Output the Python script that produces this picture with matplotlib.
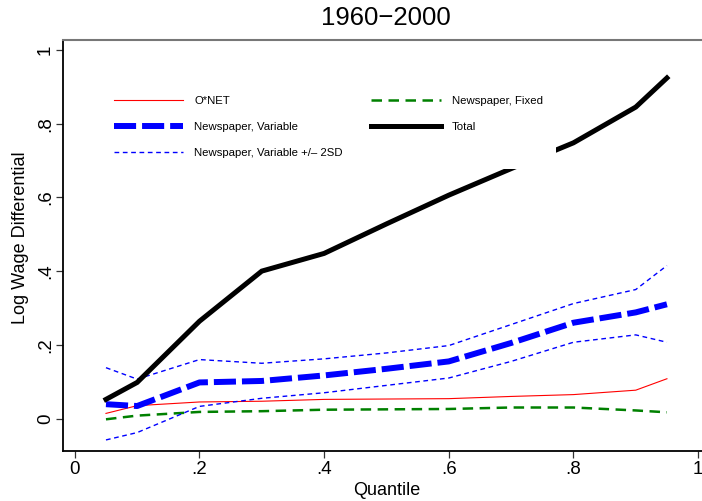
import numpy as np
import matplotlib
matplotlib.use("Agg")
import matplotlib.pyplot as pl
from matplotlib.patches import Rectangle

pl.rc('font', family=['Liberation Sans', 'DejaVu Sans'])

# quantiles and log wage differentials
quantile = [0.05, 0.1, 0.2, 0.3, 0.4, 0.5, 0.6, 0.7, 0.8, 0.9, 0.95]
onet = [0.014, 0.035, 0.045, 0.047, 0.052, 0.053, 0.054, 0.060, 0.065, 0.077, 0.108]
news_fixed = [-0.002, 0.008, 0.018, 0.020, 0.024, 0.025, 0.026, 0.030, 0.030, 0.022, 0.017]
news_var = [0.039, 0.034, 0.098, 0.102, 0.117, 0.135, 0.155, 0.205, 0.260, 0.288, 0.310]
news_var_hi = [0.138, 0.107, 0.160, 0.150, 0.162, 0.178, 0.198, 0.255, 0.312, 0.350, 0.415]
news_var_lo = [-0.058, -0.038, 0.033, 0.055, 0.070, 0.090, 0.110, 0.155, 0.207, 0.227, 0.207]
total = [0.052, 0.098, 0.264, 0.400, 0.448, 0.528, 0.606, 0.678, 0.748, 0.845, 0.924]

xticks = [0, 0.2, 0.4, 0.6, 0.8, 1]
xticklabels = ["0", ".2", ".4", ".6", ".8", "1"]
yticks = [0, 0.2, 0.4, 0.6, 0.8, 1]
yticklabels = ["0", ".2", ".4", ".6", ".8", "1"]

fig = pl.figure(figsize=(7.02, 5.01), dpi=100)
ax = fig.add_axes([0.0897, 0.0998, 0.9216, 0.8204])

l_onet, = ax.plot(quantile, onet, color='#ff0000', lw=0.8, zorder=2)
l_fix, = ax.plot(quantile, news_fixed, color='#008000', lw=1.8, dashes=(4.2, 2.6), zorder=2)
l_var, = ax.plot(quantile, news_var, color='#0000ff', lw=4.3, dashes=(3.7, 1.0), zorder=2)
l_sd, = ax.plot(quantile, news_var_hi, color='#0000ff', lw=1.0, dashes=(3.4, 2.6), zorder=2)
ax.plot(quantile, news_var_lo, color='#0000ff', lw=1.0, dashes=(3.4, 2.6), zorder=2)
l_tot, = ax.plot(quantile, total, color='black', lw=3.6, zorder=2,
                 solid_joinstyle='miter')

# white legend area hides the lines behind it (as in the Stata graph)
ax.add_patch(Rectangle((0.057, 0.686), 0.705, 0.22, transform=ax.transAxes,
                       facecolor='white', edgecolor='none', zorder=3))

leg = ax.legend([l_onet, l_var, l_sd, l_fix, l_tot],
                ["O*NET", "Newspaper, Variable", "Newspaper, Variable +/\u2013 2SD",
                 "Newspaper, Fixed", "Total"],
                ncol=2, loc='upper left', bbox_to_anchor=(0.0788, 0.864),
                frameon=False, fontsize=8.2, handlelength=6.1, handletextpad=0.95,
                labelspacing=1.42, columnspacing=2.5, borderpad=0, borderaxespad=0)
leg.set_zorder(4)

ax.set_xlim(-0.019, 1.019)
ax.set_ylim(-0.088, 1.027)

ax.set_xticks(xticks, xticklabels)
ax.set_yticks(yticks, yticklabels)
ax.tick_params(axis='both', labelsize=13.5, length=5, width=0.9, color='#333333')
ax.tick_params(axis='x', pad=2)
ax.tick_params(axis='y', pad=1.5)
for lab in ax.get_yticklabels():
    lab.set_rotation(90)
    lab.set_va('center')

ax.spines['right'].set_visible(False)
ax.spines['top'].set_color('#777777')
ax.spines['top'].set_linewidth(1.5)
ax.spines['left'].set_linewidth(1.3)
ax.spines['bottom'].set_linewidth(1.3)

ax.set_xlabel("Quantile", fontsize=13)
ax.set_ylabel("Log Wage Differential", fontsize=13)
ax.xaxis.set_label_coords(0.5, -0.076)
ax.yaxis.set_label_coords(-0.053, 0.52)

fig.text(0.55, 0.965, "1960\u22122000", fontsize=18.5, ha='center', va='center')

fig.savefig("out.png", dpi=100)
